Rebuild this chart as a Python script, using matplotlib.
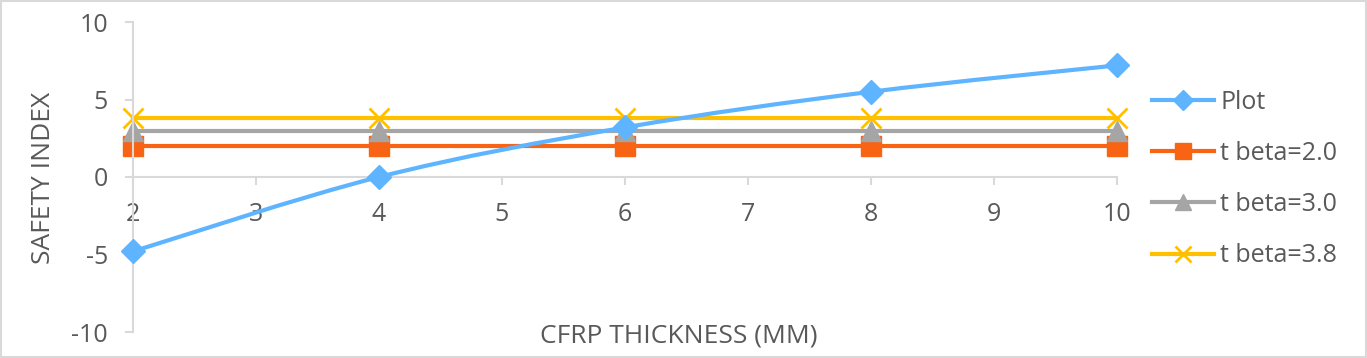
import matplotlib.pyplot as plt
from matplotlib.path import Path
from matplotlib.patches import PathPatch
from matplotlib.lines import Line2D

plt.rcParams['font.family'] = ['Open Sans', 'DejaVu Sans']
plt.rcParams['axes.unicode_minus'] = False

# data
thickness = [2, 4, 6, 8, 10]
safety_index = [-4.8, 0.0, 3.2, 5.5, 7.2]
beta_20 = [2.0, 2.0, 2.0, 2.0, 2.0]
beta_30 = [3.0, 3.0, 3.0, 3.0, 3.0]
beta_38 = [3.8, 3.8, 3.8, 3.8, 3.8]
labels = ['Plot', 't beta=2.0', 't beta=3.0', 't beta=3.8']

c_blue = '#5FB4FF'
c_orange = '#F86414'
c_grey = '#A5A5A5'
c_yellow = '#FFC000'
txt = '#595959'
axc = '#D9D9D9'

fig = plt.figure(figsize=(13.67, 3.58), dpi=100)
fig.patches.append(plt.Rectangle((0.001, 0.002), 0.998, 0.995, transform=fig.transFigure,
                                 fill=False, edgecolor=axc, linewidth=1.5))
ax = fig.add_axes([133 / 1367, 1 - 332 / 358, (1117 - 133) / 1367, 310 / 358])

# smoothed line like Excel (Bezier through the points)
verts = [(thickness[0], safety_index[0])]
codes = [Path.MOVETO]
n = len(thickness)
for i in range(n - 1):
    p0 = (thickness[max(i - 1, 0)], safety_index[max(i - 1, 0)])
    p1 = (thickness[i], safety_index[i])
    p2 = (thickness[i + 1], safety_index[i + 1])
    p3 = (thickness[min(i + 2, n - 1)], safety_index[min(i + 2, n - 1)])
    c1 = (p1[0] + (p2[0] - p0[0]) / 6, p1[1] + (p2[1] - p0[1]) / 6)
    c2 = (p2[0] - (p3[0] - p1[0]) / 6, p2[1] - (p3[1] - p1[1]) / 6)
    verts += [c1, c2, p2]
    codes += [Path.CURVE4] * 3
ax.add_patch(PathPatch(Path(verts, codes), fill=False, edgecolor=c_blue, lw=3, zorder=3,
                       capstyle='round'))
ax.plot(thickness, safety_index, ls='none', marker='D', ms=12, color=c_blue, zorder=4,
        clip_on=False)

ax.plot(thickness, beta_20, color=c_orange, lw=3, marker='s', ms=14, zorder=2, clip_on=False)
ax.plot(thickness, beta_30, color=c_grey, lw=3, marker='^', ms=15, zorder=2, clip_on=False)
ax.plot(thickness, beta_38, color=c_yellow, lw=3, marker='x', ms=14, mew=2, zorder=2, clip_on=False)

ax.set_xlim(2, 10)
ax.set_ylim(-10, 10)
ax.set_xticks(range(2, 11))
ax.set_yticks([-10, -5, 0, 5, 10])
for s in ['top', 'right']:
    ax.spines[s].set_visible(False)
ax.spines['bottom'].set_position(('data', 0))
ax.spines['bottom'].set_color(axc)
ax.spines['left'].set_color(axc)
ax.spines['bottom'].set_linewidth(1.5)
ax.spines['left'].set_linewidth(1.5)
ax.tick_params(axis='x', direction='out', length=6, width=1.5, color=axc, pad=12,
               labelsize=18, labelcolor=txt)
ax.tick_params(axis='y', direction='out', length=6, width=1.5, color=axc, pad=12,
               labelsize=18, labelcolor=txt)

fig.text(679 / 1367, 1 - 336 / 358, 'CFRP THICKNESS (MM)', ha='center', va='center',
         fontsize=19, color=txt)
fig.text(44 / 1367, 1 - 178 / 358, 'SAFETY INDEX', ha='center', va='center',
         rotation=90, fontsize=19, color=txt)

handles = [
    Line2D([], [], color=c_blue, lw=3, marker='D', ms=10),
    Line2D([], [], color=c_orange, lw=3, marker='s', ms=11),
    Line2D([], [], color=c_grey, lw=3, marker='^', ms=12),
    Line2D([], [], color=c_yellow, lw=3, marker='x', ms=11, mew=2),
]
leg = fig.legend(handles, labels, loc='center left', bbox_to_anchor=(1129 / 1367, 1 - 179 / 358),
                 frameon=False, fontsize=18, labelspacing=1.05, handlelength=2.5,
                 handletextpad=0.25)
for t in leg.get_texts():
    t.set_color(txt)

fig.savefig('out.png', dpi=100)
